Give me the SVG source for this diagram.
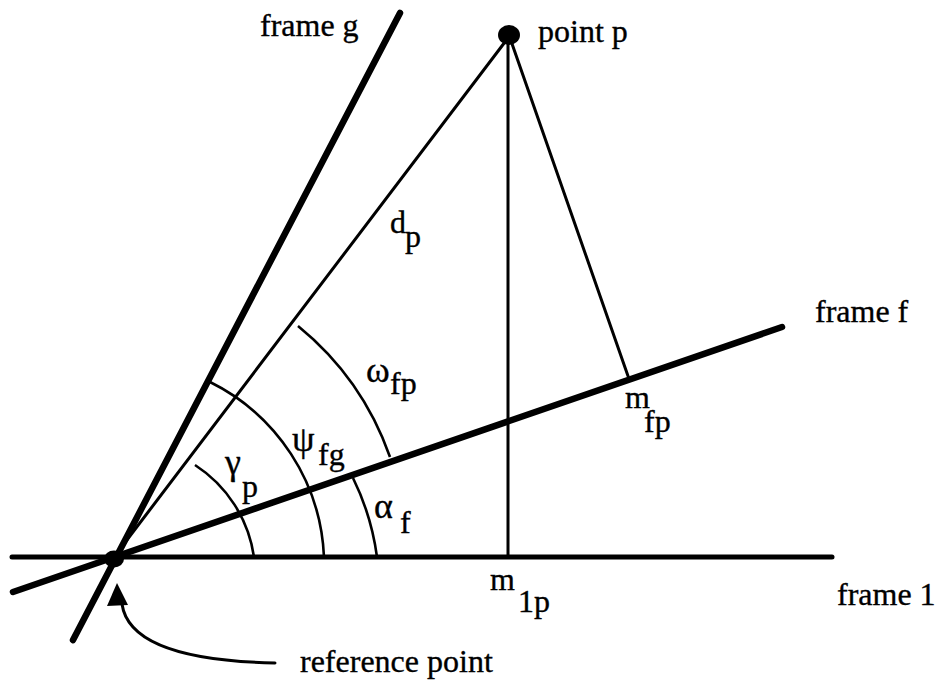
<svg xmlns="http://www.w3.org/2000/svg" width="942" height="683" viewBox="0 0 942 683">
<style>
.frame{stroke:#000;stroke-linecap:round;fill:none}
.thin{stroke:#000;stroke-width:3;fill:none;stroke-linecap:round}
.arc{stroke:#000;stroke-width:2.6;fill:none}
text{font-family:"Liberation Serif","Times New Roman",serif;font-size:32px;fill:#000;stroke:#000;stroke-width:0.35}
.greek{font-size:36px}
</style>
<rect width="942" height="683" fill="#fff"/>
<g id="frames">
<line id="frame1" class="frame" stroke-width="5" x1="12" y1="557" x2="832" y2="557"/>
<line id="frameF" class="frame" stroke-width="6.5" x1="13" y1="592" x2="782" y2="327"/>
<line id="frameG" class="frame" stroke-width="6.5" x1="400" y1="13" x2="73" y2="640"/>
</g>
<g id="connectors">
<line class="thin" x1="508" y1="38" x2="114" y2="557"/>
<line class="thin" x1="508" y1="38" x2="508" y2="557"/>
<line class="thin" x1="510" y1="38" x2="628" y2="376"/>
<path class="arc" d="M254 557 A132 132 0 0 0 195 465"/>
<path class="arc" d="M324 557 A205 205 0 0 0 210 382"/>
<path class="arc" d="M377 557 A255 255 0 0 0 353 478"/>
<path class="arc" d="M390 457 A295 295 0 0 0 298 326"/>
<path class="thin" d="M122 604 Q130 660 275 663"/>
<polygon points="117,583 107,606 128,605" fill="#000"/>
</g>
<g id="pointP"><ellipse cx="509" cy="35" rx="11" ry="10" fill="#000"/></g>
<g id="refPoint"><ellipse cx="114" cy="559" rx="10" ry="8.5" fill="#000"/></g>
<g id="labels">
<text x="260" y="36">frame g</text>
<text x="538" y="42">point p</text>
<text x="815" y="322">frame f</text>
<text x="837" y="605">frame 1</text>
<text x="300" y="672">reference point</text>
<text x="390" y="233">d</text><text x="405" y="247">p</text>
<text class="greek" x="366" y="382">ω</text><text x="390" y="394">fp</text>
<text class="greek" x="292" y="451">ψ</text><text x="318" y="465">fg</text>
<text class="greek" x="225" y="474">γ</text><text x="242" y="497">p</text>
<text class="greek" x="374" y="518">α</text><text x="400" y="533">f</text>
<text x="625" y="408">m</text><text x="644" y="432">fp</text>
<text x="490" y="590">m</text><text x="518" y="612">1p</text>
</g>
</svg>
